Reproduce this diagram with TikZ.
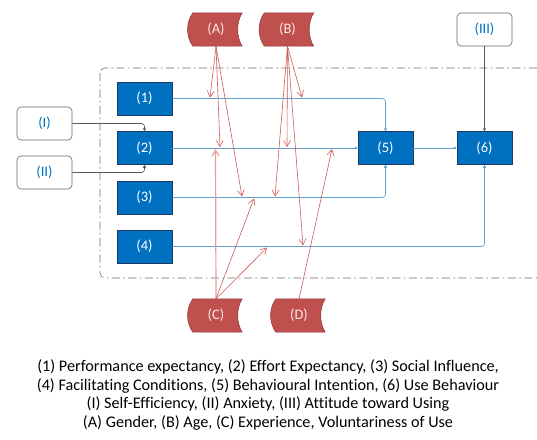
\documentclass[tikz,border=0pt]{standalone}
\usepackage{fontspec}
\setmainfont{Carlito}[Ligatures={NoCommon}]
\usetikzlibrary{arrows.meta,calc,backgrounds}
\definecolor{boxblue}{RGB}{0,112,192}
\definecolor{boxedge}{RGB}{31,56,100}
\definecolor{modred}{RGB}{192,80,77}
\definecolor{modedge}{RGB}{140,56,54}
\definecolor{linkblue}{RGB}{100,160,205}
\definecolor{arrred}{RGB}{205,90,87}
\definecolor{paleRed}{RGB}{228,160,158}
\definecolor{txtblue}{RGB}{0,112,192}
\tikzset{
  cbox/.style={draw=boxedge,line width=0.5pt,fill=boxblue,text=white,minimum width=55pt,minimum height=33pt,inner sep=0pt,font=\fontsize{14.5}{16}\selectfont},
  wbox/.style={draw=gray!80!black,line width=0.6pt,fill=white,text=txtblue,rounded corners=4pt,minimum width=55pt,minimum height=33pt,inner sep=0pt,font=\fontsize{14.5}{16}\selectfont},
  modnode/.style={text=red!10!white,minimum width=52pt,minimum height=33pt,inner sep=0pt,font=\fontsize{14.5}{16}\selectfont},
  modshape/.style={fill=modred,draw=modedge,line width=0.5pt},
  bluelink/.style={draw=linkblue,line width=0.7pt,rounded corners=3pt,-{Triangle[length=3pt,width=3pt]}},
  graylink/.style={draw=gray!70!black,line width=0.7pt,rounded corners=3pt,-{Triangle[length=3pt,width=3pt]}},
  redarr/.style={draw=arrred,line width=0.6pt,-{Straight Barb[length=6pt,width=7pt]}},
  palearr/.style={draw=paleRed,line width=1.2pt,-{Straight Barb[length=6pt,width=7pt]}},
  legend/.style={font=\fontsize{16.2}{18.8}\selectfont,align=center,inner sep=0pt}
}
\newcommand{\storedshape}[1]{%
  \begin{scope}[on background layer]
  \path[modshape] ($(#1.north west)+(3,0)$) -- (#1.north east)
    .. controls ($(#1.north east)+(-6,10)$) and ($(#1.south east)+(-6,-10)$) .. (#1.south east)
    -- ($(#1.south west)+(3,0)$)
    .. controls ($(#1.south west)+(-4,-10)$) and ($(#1.north west)+(-4,10)$) .. cycle;
  \end{scope}}
\begin{document}
\begin{tikzpicture}[x=1pt,y=-1pt]
\useasboundingbox (0,0) rectangle (537,439);
% dashed frame
\draw[gray!85!black,line width=0.6pt,dash pattern=on 8pt off 3.5pt on 1.5pt off 3.5pt,rounded corners=5pt] (100,68) rectangle (560,278);
% nodes
\node[cbox] (n1) at (144.5,98.5) {(1)};
\node[cbox] (n2) at (144.5,148) {(2)};
\node[cbox] (n3) at (144.5,197.5) {(3)};
\node[cbox] (n4) at (144.5,246.5) {(4)};
\node[cbox] (n5) at (385.5,148) {(5)};
\node[cbox] (n6) at (484.5,148) {(6)};
\node[wbox] (i1) at (44.5,123.5) {(I)};
\node[wbox] (i2) at (44.5,172.5) {(II)};
\node[wbox] (i3) at (484.5,29.5) {(III)};
\node[modnode] (A) at (216,29.5) {(A)};
\node[modnode] (B) at (287.5,29.5) {(B)};
\node[modnode] (C) at (216,315.5) {(C)};
\node[modnode] (D) at (299,315.5) {(D)};
\storedshape{A}\storedshape{B}\storedshape{C}\storedshape{D}
% main links
\draw[bluelink] (n1.east) -| (n5.north);
\draw[bluelink] (n2) -- (n5);
\draw[bluelink] (n3.east) -| (n5.south);
\draw[bluelink] (n4.east) -| (n6.south);
\draw[bluelink] (n5) -- (n6);
\draw[graylink] (i3) -- (n6);
\draw[graylink] (i1.east) -| (n2.north);
\draw[graylink] (i2.east) -| (n2.south);
% moderator targets
\coordinate (a1) at (210,97.5);
\coordinate (a2) at (220,147);
\coordinate (a3) at (242,196.5);
\coordinate (b1) at (302,97.5);
\coordinate (b2) at (287,147);
\coordinate (b3) at (275,196.5);
\coordinate (b4) at (303,245.5);
\coordinate (c1) at (215.5,149);
\coordinate (c2) at (254,198.5);
\coordinate (c3) at (267,247.5);
\coordinate (d1) at (332,149);
% moderator arrows
\draw[redarr] (A.south) -- (a1);
\draw[redarr] (A.south) -- (a2);
\draw[redarr] (A.south) -- (a3);
\draw[redarr] (B.south) -- (b1);
\draw[redarr] (B.south) -- (b2);
\draw[redarr] (B.south) -- (b3);
\draw[redarr] (B.south) -- (b4);
\draw[palearr] (C.north) -- (c1);
\draw[redarr] (C.north) -- (c2);
\draw[redarr] (C.north) -- (c3);
\draw[redarr] (D.north) -- (d1);
% legend
\node[legend] (leg) at (268,395) {(1) Performance expectancy, (2) Effort Expectancy, (3) Social Influence,\\
(4) Facilitating Conditions, (5) Behavioural Intention, (6) Use Behaviour\\
(I) Self-Efficiency, (II) Anxiety, (III) Attitude toward Using\\
(A) Gender, (B) Age, (C) Experience, Voluntariness of Use};
\end{tikzpicture}
\end{document}
